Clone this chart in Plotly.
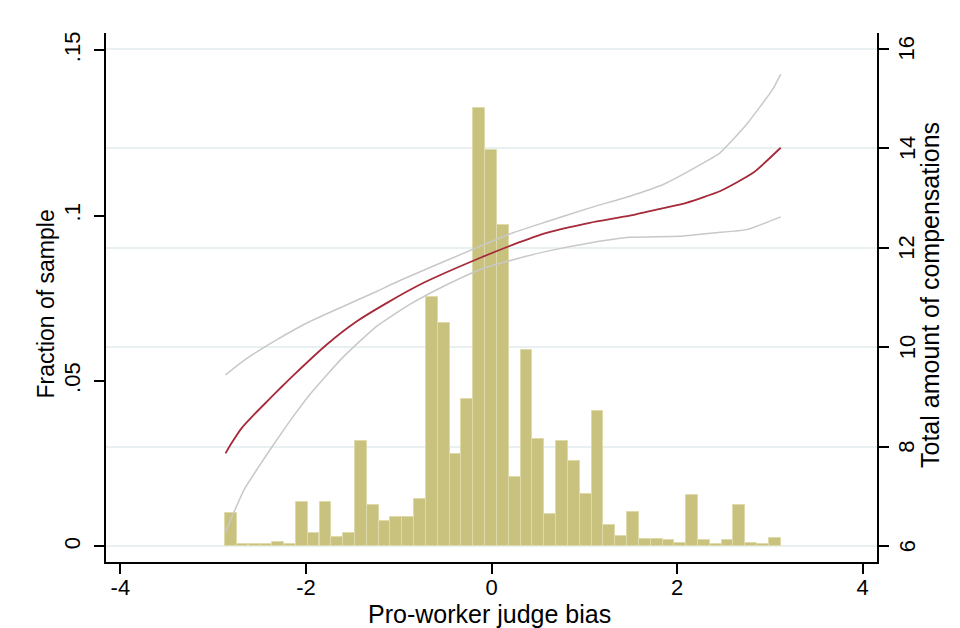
import plotly.graph_objects as go

# ---- data ----
bin_centers = [-2.810, -2.683, -2.555, -2.428, -2.300, -2.173, -2.045, -1.918, -1.790, -1.663,
               -1.535, -1.408, -1.280, -1.153, -1.025, -0.898, -0.770, -0.643, -0.515, -0.388,
               -0.260, -0.133, -0.005, 0.122, 0.250, 0.377, 0.505, 0.632, 0.760, 0.887,
               1.015, 1.142, 1.270, 1.397, 1.525, 1.652, 1.780, 1.907, 2.035, 2.162,
               2.290, 2.417, 2.545, 2.672, 2.800, 2.927, 3.055]
fractions = [0.0102, 0.0006, 0.0006, 0.0006, 0.0012, 0.0006, 0.0133, 0.0040, 0.0133, 0.0027,
             0.0040, 0.0317, 0.0126, 0.0077, 0.0090, 0.0090, 0.0144, 0.0755, 0.0675, 0.0278,
             0.0445, 0.1326, 0.1198, 0.0972, 0.0209, 0.0593, 0.0324, 0.0098, 0.0319, 0.0259,
             0.0159, 0.0410, 0.0063, 0.0031, 0.0103, 0.0023, 0.0023, 0.0018, 0.0011, 0.0154,
             0.0018, 0.0006, 0.0018, 0.0124, 0.0011, 0.0006, 0.0025]
bin_width = 0.1275

fit_x = [-2.867, -2.803, -2.695, -2.552, -2.408, -2.264, -2.121, -1.778, -1.455, -1.131,
         -0.737, -0.126, 0.233, 0.593, 1.059, 1.49, 1.814, 2.10, 2.46, 2.82, 3.117]
fit_y = [7.866, 8.068, 8.370, 8.660, 8.930, 9.200, 9.460, 10.050, 10.516, 10.886,
         11.289, 11.792, 12.060, 12.296, 12.500, 12.644, 12.780, 12.900, 13.133, 13.504, 14.007]

upper_x = [-2.867, -2.659, -2.317, -1.958, -1.6, -1.239, -0.988, -0.126, 0.233, 0.593,
           1.059, 1.49, 1.85, 2.317, 2.46, 2.748, 3.03, 3.117]
upper_y = [9.443, 9.745, 10.147, 10.516, 10.818, 11.120, 11.340, 12.026, 12.300, 12.520,
           12.799, 13.033, 13.268, 13.737, 13.900, 14.476, 15.181, 15.483]

lower_x = [-2.867, -2.767, -2.659, -2.516, -2.354, -2.228, -2.121, -1.958, -1.6, -1.239,
           -0.88, -0.521, -0.126, 0.233, 0.593, 1.059, 1.49, 2.03, 2.39, 2.748, 3.117]
lower_y = [6.288, 6.725, 7.162, 7.580, 8.030, 8.370, 8.650, 9.050, 9.800, 10.420,
           10.860, 11.220, 11.557, 11.758, 11.925, 12.094, 12.207, 12.227, 12.296, 12.362, 12.618]

x_ticks = [-4, -2, 0, 2, 4]
x_ticklabels = ["-4", "-2", "0", "2", "4"]
left_ticks = [0, 0.05, 0.1, 0.15]
left_ticklabels = ["0", ".05", ".1", ".15"]
right_ticks = [6, 8, 10, 12, 14, 16]
right_ticklabels = ["6", "8", "10", "12", "14", "16"]

x_title = "Pro-worker judge bias"
left_title = "Fraction of sample"
right_title = "Total amount of compensations"

FONT = "Liberation Sans, Arial, sans-serif"
BAR_COLOR = "rgb(201,194,127)"
GRID = "rgb(232,240,242)"

fig = go.Figure()
fig.add_trace(go.Bar(x=bin_centers, y=fractions, width=bin_width,
                     marker=dict(color=BAR_COLOR, line=dict(color="rgb(222,218,170)", width=1)),
                     yaxis="y", showlegend=False))
fig.add_trace(go.Scatter(x=upper_x, y=upper_y, mode="lines", yaxis="y2",
                         line=dict(color="rgb(200,200,200)", width=1.5, shape="spline", smoothing=0.5),
                         showlegend=False))
fig.add_trace(go.Scatter(x=lower_x, y=lower_y, mode="lines", yaxis="y2",
                         line=dict(color="rgb(200,200,200)", width=1.5, shape="spline", smoothing=0.5),
                         showlegend=False))
fig.add_trace(go.Scatter(x=fit_x, y=fit_y, mode="lines", yaxis="y2",
                         line=dict(color="rgb(165,42,58)", width=1.8, shape="spline", smoothing=0.5),
                         showlegend=False))

axis_common = dict(showline=True, linecolor="black", linewidth=1.5, ticks="outside",
                   ticklen=10, tickwidth=1.5, tickcolor="black", zeroline=False,
                   automargin=False,
                   tickfont=dict(family=FONT, size=22, color="black"))

# right-axis tick labels placed via the y2 scale
right_label_annotations = [
    dict(text=lab, xref="paper", yref="y2", x=1.0389, y=val,
         xanchor="center", yanchor="middle", showarrow=False, textangle=-90,
         font=dict(family=FONT, size=22, color="black"))
    for val, lab in zip(right_ticks, right_ticklabels)
]

fig.update_layout(
    width=960, height=628,
    margin=dict(l=98, r=91, t=25, b=74, pad=0),
    paper_bgcolor="white", plot_bgcolor="white",
    bargap=0,
    font=dict(family=FONT, color="black"),
    xaxis=dict(range=[-4.155, 4.155], tickvals=x_ticks, ticktext=x_ticklabels,
               showgrid=False, ticklabelstandoff=-5, **axis_common),
    yaxis=dict(range=[-0.00474, 0.1552], tickvals=left_ticks, ticktext=left_ticklabels,
               tickangle=-90, showgrid=False, ticklabelstandoff=5, **axis_common),
    yaxis2=dict(range=[5.684, 16.313], tickvals=right_ticks, ticktext=right_ticklabels,
                showticklabels=False, overlaying="y", side="right", showgrid=True,
                gridcolor=GRID, gridwidth=1.5, **axis_common),
    shapes=[dict(type="line", xref="paper", yref="paper", x0=-0.131, x1=1.108,
                 y0=1.051, y1=1.051, line=dict(color=GRID, width=1.5))],
    annotations=[
        dict(text=x_title, xref="paper", yref="paper", x=0.498, y=-0.0983,
             xanchor="center", yanchor="middle", showarrow=False,
             font=dict(family=FONT, size=25, color="black")),
        dict(text=left_title, xref="paper", yref="paper", x=-0.0772, y=0.4877,
             xanchor="center", yanchor="middle", showarrow=False, textangle=-90,
             font=dict(family=FONT, size=23, color="black")),
        dict(text=right_title, xref="paper", yref="paper", x=1.0687, y=0.5047,
             xanchor="center", yanchor="middle", showarrow=False, textangle=-90,
             font=dict(family=FONT, size=25, color="black")),
    ] + right_label_annotations,
)

fig.write_html("out.html")
